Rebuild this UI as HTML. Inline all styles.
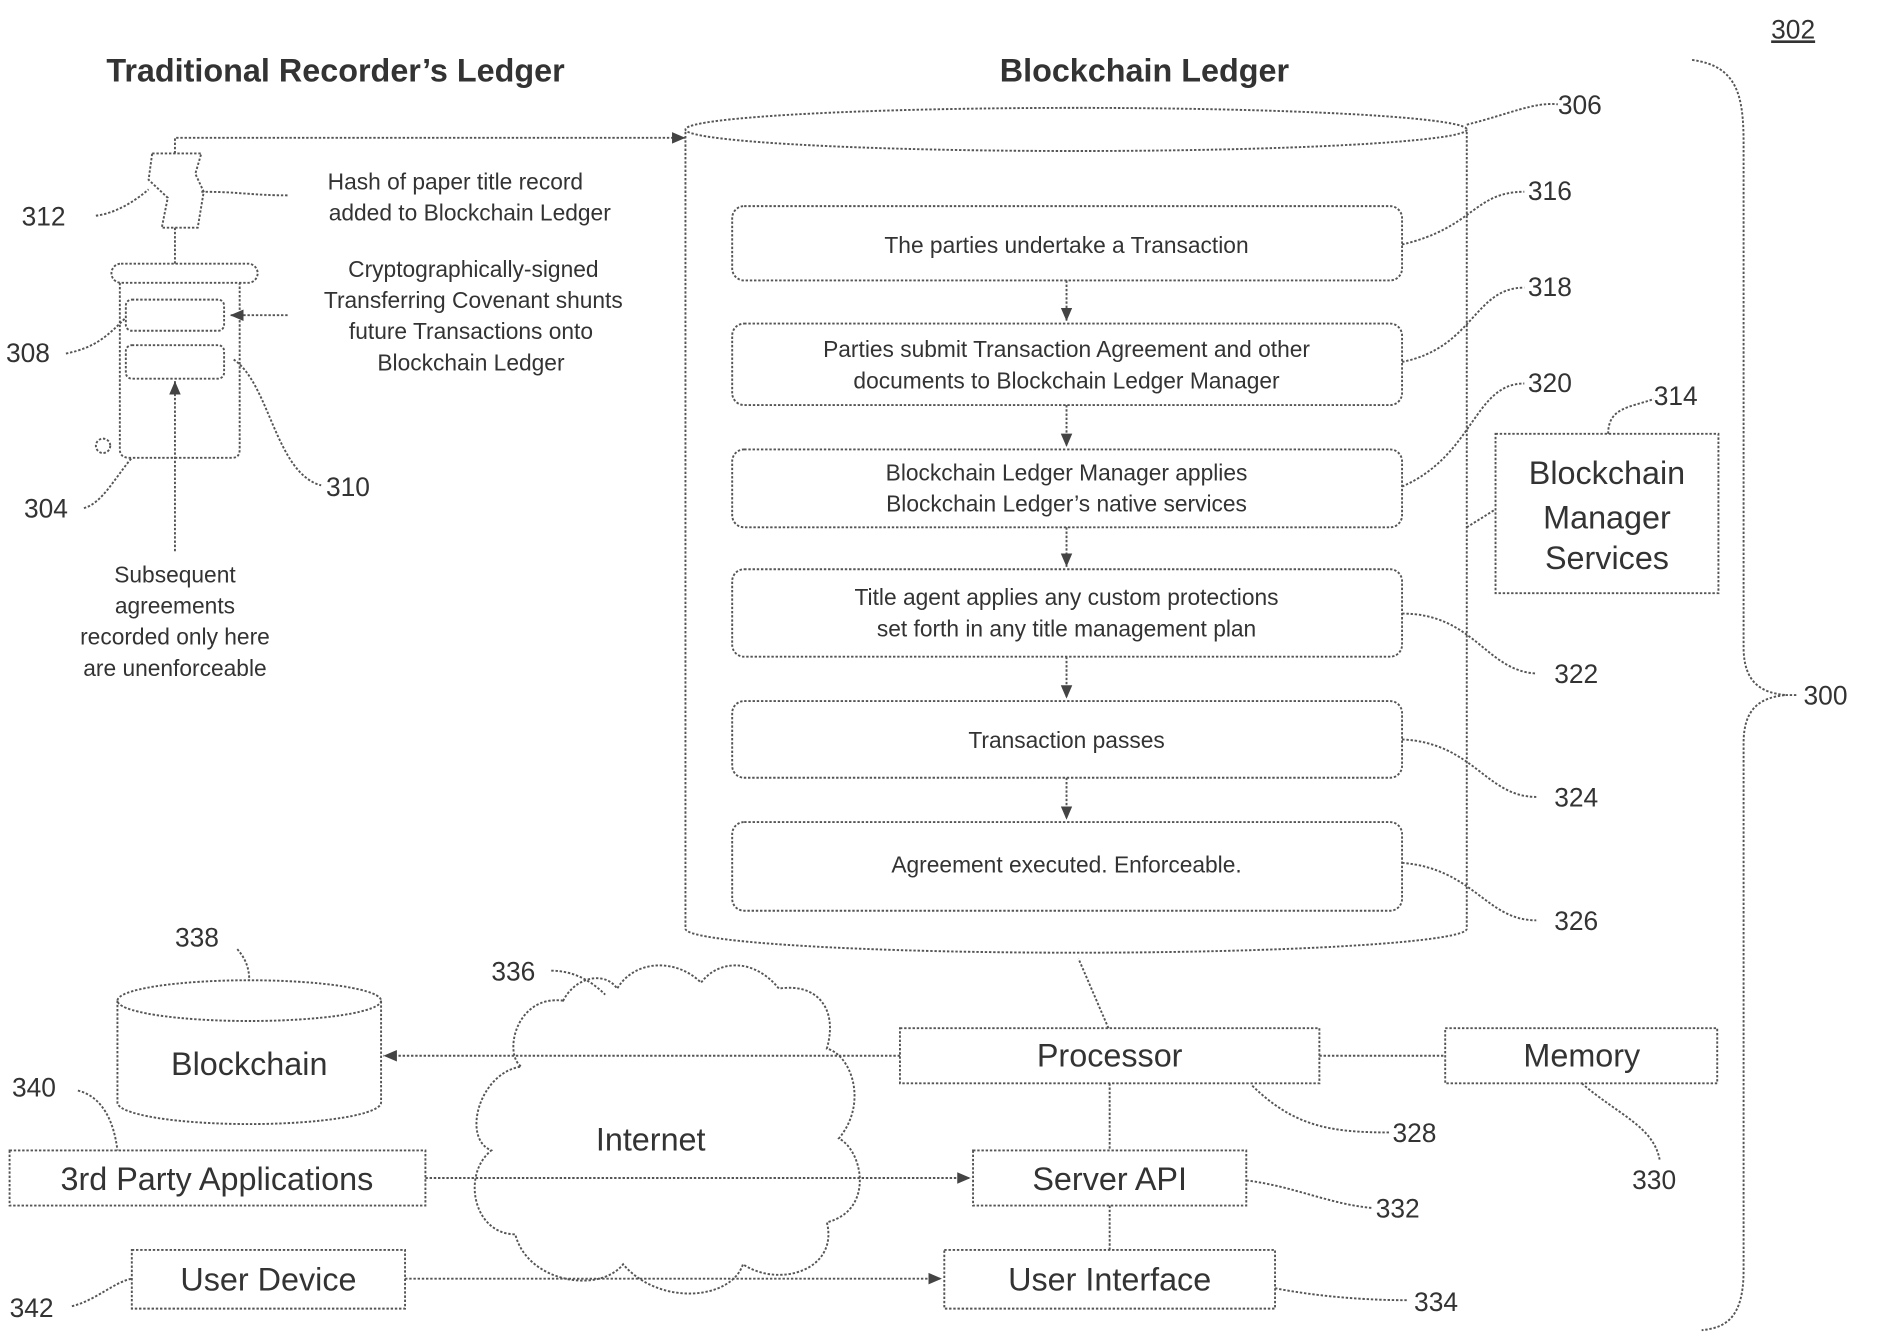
<!DOCTYPE html>
<html><head><meta charset="utf-8"><style>
html,body{margin:0;padding:0;background:#fff}
svg{display:block}
text{font-family:"Liberation Sans",sans-serif;fill:#333}
.l{fill:none;stroke:#555;stroke-width:1.6;stroke-dasharray:2 1.5}
.t{font-size:19px;text-anchor:middle}
.b{font-size:26px;text-anchor:middle}
.n{font-size:22px}
</style></head><body>
<svg width="1879" height="1338" viewBox="0 0 1568 1116.5" xmlns="http://www.w3.org/2000/svg">
<defs><marker id="a" markerWidth="8" markerHeight="8" refX="7" refY="4" orient="auto"><path d="M0,1 L7,4 L0,7" fill="#444"/></marker></defs>
<text x="280" y="68" class="b" style="font-weight:bold;font-size:27px">Traditional Recorder’s Ledger</text>
<text x="955" y="68" class="b" style="font-weight:bold;font-size:27px">Blockchain Ledger</text>
<text x="1478" y="32" class="n" style="text-decoration:underline">302</text>
<!-- cylinder -->
<path class="l" d="M572,110 L572,775 A326,20 0 0 0 1224,775 L1224,110"/>
<ellipse class="l" cx="898" cy="108" rx="326" ry="18"/>
<path class="l" d="M1224,104 C1260,95 1280,85 1300,87"/><text x="1300" y="95" class="n">306</text>
<!-- boxes -->
<g>
<rect class="l" x="611" y="172" width="559" height="62" rx="10"/><text x="890" y="211" class="t">The parties undertake a Transaction</text>
<rect class="l" x="611" y="270" width="559" height="68" rx="10"/><text x="890" y="298" class="t">Parties submit Transaction Agreement and other</text><text x="890" y="324" class="t">documents to Blockchain Ledger Manager</text>
<rect class="l" x="611" y="375" width="559" height="65" rx="10"/><text x="890" y="401" class="t">Blockchain Ledger Manager applies</text><text x="890" y="427" class="t">Blockchain Ledger’s native services</text>
<rect class="l" x="611" y="475" width="559" height="73" rx="10"/><text x="890" y="505" class="t">Title agent applies any custom protections</text><text x="890" y="531" class="t">set forth in any title management plan</text>
<rect class="l" x="611" y="585" width="559" height="64" rx="10"/><text x="890" y="624" class="t">Transaction passes</text>
<rect class="l" x="611" y="686" width="559" height="74" rx="10"/><text x="890" y="728" class="t">Agreement executed. Enforceable.</text>
<path class="l" marker-end="url(#a)" d="M890,234 V268"/><path class="l" marker-end="url(#a)" d="M890,338 V373"/><path class="l" marker-end="url(#a)" d="M890,440 V473"/><path class="l" marker-end="url(#a)" d="M890,548 V583"/><path class="l" marker-end="url(#a)" d="M890,649 V684"/>
</g>
<path class="l" d="M1170,204 C1230,190 1230,160 1272,160"/><text x="1275" y="167" class="n">316</text>
<path class="l" d="M1170,302 C1230,290 1230,240 1272,240"/><text x="1275" y="247" class="n">318</text>
<path class="l" d="M1170,406 C1230,380 1230,320 1272,320"/><text x="1275" y="327" class="n">320</text>
<path class="l" d="M1170,512 C1230,512 1240,560 1282,562"/><text x="1297" y="570" class="n">322</text>
<path class="l" d="M1170,617 C1230,620 1240,665 1282,665"/><text x="1297" y="673" class="n">324</text>
<path class="l" d="M1170,720 C1230,725 1240,768 1282,768"/><text x="1297" y="776" class="n">326</text>
<!-- BMS -->
<rect class="l" x="1248" y="362" width="186" height="133"/>
<text x="1341" y="404" class="b" style="font-size:27px">Blockchain</text><text x="1341" y="441" class="b" style="font-size:27px">Manager</text><text x="1341" y="475" class="b" style="font-size:27px">Services</text>
<path class="l" d="M1342,362 C1342,340 1360,340 1380,333"/><text x="1380" y="338" class="n">314</text>
<path class="l" d="M1224,440 L1248,425"/>
<!-- brace -->
<path class="l" d="M1412,50 C1450,55 1455,80 1455,120 L1455,540 C1455,570 1470,578 1490,580 C1470,582 1455,590 1455,620 L1455,1060 C1455,1100 1440,1108 1420,1110"/>
<path class="l" d="M1490,580 L1500,580"/><text x="1505" y="588" class="n">300</text>
<!-- left side -->
<path class="l" marker-end="url(#a)" d="M146,128 V115 H572"/>
<path class="l" d="M127,128 H168 L163,145 L170,160 L165,190 H135 L140,165 L124,150 Z"/>
<path class="l" d="M146,190 V220"/>
<path class="l" d="M168,160 C200,160 210,163 240,163"/>
<text x="380" y="158" class="t">Hash of paper title record</text><text x="392" y="184" class="t">added to Blockchain Ledger</text>
<path class="l" d="M80,180 C95,178 110,170 124,158"/><text x="18" y="188" class="n">312</text>
<rect class="l" x="93" y="220" width="122" height="16" rx="8"/>
<path class="l" d="M100,236 V375 Q100,382 108,382 H194 Q200,382 200,375 V236"/>
<circle class="l" cx="86" cy="372" r="6"/>
<rect class="l" x="105" y="250" width="82" height="26" rx="5"/>
<rect class="l" x="105" y="288" width="82" height="28" rx="5"/>
<path class="l" marker-end="url(#a)" d="M240,263 H192"/>
<text x="395" y="231" class="t">Cryptographically-signed</text><text x="395" y="257" class="t">Transferring Covenant shunts</text><text x="393" y="283" class="t">future Transactions onto</text><text x="393" y="309" class="t">Blockchain Ledger</text>
<path class="l" d="M55,295 C80,290 90,280 105,265"/><text x="5" y="302" class="n">308</text>
<path class="l" d="M195,300 C225,320 230,395 268,405"/><text x="272" y="414" class="n">310</text>
<path class="l" d="M70,424 C85,420 95,400 110,382"/><text x="20" y="432" class="n">304</text>
<path class="l" marker-end="url(#a)" d="M146,460 V318"/>
<text x="146" y="486" class="t">Subsequent</text><text x="146" y="512" class="t">agreements</text><text x="146" y="538" class="t">recorded only here</text><text x="146" y="564" class="t">are unenforceable</text>
<!-- bottom -->
<path class="l" d="M98,835 V920 A110,18 0 0 0 318,920 V835"/>
<ellipse class="l" cx="208" cy="835" rx="110" ry="17"/>
<text x="208" y="897" class="b" style="font-size:27px">Blockchain</text>
<path class="l" d="M198,792 C205,800 208,808 208,818"/><text x="146" y="790" class="n">338</text>
<path class="l" d="M470,835 C430,830 420,880 435,890 C400,895 385,950 410,960 C385,980 395,1030 430,1030 C440,1070 500,1080 520,1055 C550,1090 610,1085 620,1055 C650,1075 700,1060 690,1020 C730,1010 720,960 700,950 C725,920 710,880 690,875 C700,840 680,820 650,825 C630,800 600,800 585,820 C565,800 530,800 515,825 C505,810 480,815 470,835 Z"/>
<text x="543" y="960" class="b" style="font-size:27px">Internet</text>
<path class="l" d="M460,810 C480,810 495,820 505,830"/><text x="410" y="818" class="n">336</text>
<rect class="l" x="751" y="858" width="350" height="46"/><text x="926" y="890" class="b" style="font-size:27px">Processor</text>
<rect class="l" x="1206" y="858" width="227" height="46"/><text x="1320" y="890" class="b" style="font-size:27px">Memory</text>
<rect class="l" x="812" y="960" width="228" height="46"/><text x="926" y="993" class="b" style="font-size:27px">Server API</text>
<rect class="l" x="788" y="1043" width="276" height="49"/><text x="926" y="1077" class="b" style="font-size:27px">User Interface</text>
<rect class="l" x="8" y="960" width="347" height="46"/><text x="181" y="993" class="b" style="font-size:27px">3rd Party Applications</text>
<rect class="l" x="110" y="1043" width="228" height="49"/><text x="224" y="1077" class="b" style="font-size:27px">User Device</text>
<path class="l" marker-end="url(#a)" d="M751,881 H320"/>
<path class="l" d="M1101,881 H1206"/>
<path class="l" d="M926,904 V960 M926,1006 V1043"/>
<path class="l" marker-end="url(#a)" d="M355,983 H810"/>
<path class="l" marker-end="url(#a)" d="M338,1067 H786"/>
<path class="l" d="M925,858 L900,800"/>
<path class="l" d="M1045,906 C1080,940 1110,945 1160,945"/><text x="1162" y="953" class="n">328</text>
<path class="l" d="M1320,904 C1350,930 1380,940 1385,968"/><text x="1362" y="992" class="n">330</text>
<path class="l" d="M1040,985 C1080,990 1110,1005 1145,1008"/><text x="1148" y="1016" class="n">332</text>
<path class="l" d="M1064,1075 C1100,1082 1140,1085 1175,1085"/><text x="1180" y="1094" class="n">334</text>
<path class="l" d="M65,910 C85,915 95,935 98,960"/><text x="10" y="915" class="n">340</text>
<path class="l" d="M60,1090 C80,1085 95,1070 110,1067"/><text x="8" y="1099" class="n">342</text>
</svg>
</body></html>
